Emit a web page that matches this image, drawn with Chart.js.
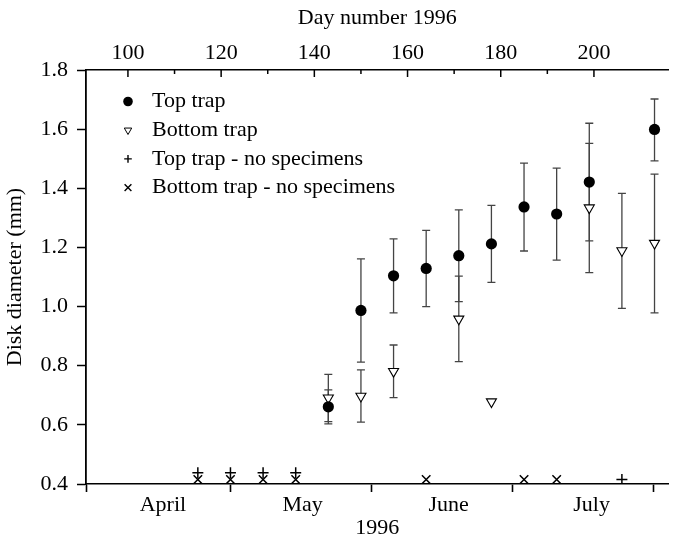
<!DOCTYPE html>
<html><head><meta charset="utf-8">
<script src="https://cdn.jsdelivr.net/npm/chart.js@4.4.1/dist/chart.umd.min.js"></script>
<style>html,body{margin:0;padding:0;background:#fff}canvas{display:block}</style>
</head><body>
<canvas id="c" width="676" height="541"></canvas>
<script>
// ---- data (day number 1996, disk diameter in mm) ----
const topTrapDays  = [143, 150, 157, 164, 171, 178, 185, 192, 199, 213];
const topTrapMean  = [0.661, 0.987, 1.104, 1.129, 1.172, 1.212, 1.337, 1.313, 1.421, 1.599];
const topTrapLow   = [0.603, 0.812, 0.979, 1.000, 1.017, 1.082, 1.188, 1.157, 1.222, 1.493];
const topTrapHigh  = [0.718, 1.161, 1.229, 1.258, 1.327, 1.342, 1.485, 1.468, 1.620, 1.702];

const bottomTrapDays = [143, 150, 157, 171, 178, 199, 206, 213];
const bottomTrapMean = [0.691, 0.697, 0.781, 0.958, 0.678, 1.334, 1.189, 1.214];
const bottomTrapLow  = [0.611, 0.609, 0.692, 0.814, null, 1.115, 0.994, 0.979];
const bottomTrapHigh = [0.771, 0.786, 0.870, 1.103, null, 1.552, 1.383, 1.448];

const topNoneDays = [115, 122, 129, 136, 206];
const topNoneY    = [0.438, 0.438, 0.438, 0.438, 0.415];
const bottomNoneDays = [115, 122, 129, 136, 164, 185, 192];
const bottomNoneY    = [0.415, 0.415, 0.415, 0.415, 0.415, 0.415, 0.415];

// bottom (month) axis: tick marks at month boundaries, labels mid-month (day numbers)
const monthTickDays  = [91, 122, 152.3, 182.5, 212.7];
const monthLabelDays = [107.5, 137.5, 168.8, 199.5];
const monthLabels    = ['April', 'May', 'June', 'July'];
const seriesLabels = ['Top trap', 'Bottom trap', 'Top trap - no specimens', 'Bottom trap - no specimens'];

const FONT = '"Liberation Serif", "Times New Roman", serif';
const pts = (xs, ys) => xs.map((x, i) => ({x: x, y: ys[i]}));

function drawMarker(ctx, style, x, y, r, lw) {
  ctx.save();
  ctx.lineWidth = lw;
  ctx.strokeStyle = '#000';
  ctx.beginPath();
  if (style === 'circle') {
    ctx.arc(x, y, r, 0, Math.PI * 2);
    ctx.fillStyle = '#000'; ctx.fill();
  } else if (style === 'triangleDown') {
    for (let k = 0; k < 3; k++) {
      const a = Math.PI + k * 2 * Math.PI / 3;
      const px = x + Math.sin(a) * r, py = y - Math.cos(a) * r;
      if (k === 0) ctx.moveTo(px, py); else ctx.lineTo(px, py);
    }
    ctx.closePath();
    ctx.fillStyle = '#fff'; ctx.fill(); ctx.stroke();
  } else if (style === 'cross') {
    ctx.moveTo(x - r, y); ctx.lineTo(x + r, y);
    ctx.moveTo(x, y - r); ctx.lineTo(x, y + r);
    ctx.stroke();
  } else if (style === 'crossRot') {
    const d = r * Math.SQRT1_2;
    ctx.moveTo(x - d, y - d); ctx.lineTo(x + d, y + d);
    ctx.moveTo(x + d, y - d); ctx.lineTo(x - d, y + d);
    ctx.stroke();
  }
  ctx.restore();
}

const errorBars = {
  id: 'errorBars',
  beforeDatasetsDraw(chart) {
    const ctx = chart.ctx, ys = chart.scales.y;
    chart.data.datasets.forEach((ds, i) => {
      if (!ds.lo) return;
      const meta = chart.getDatasetMeta(i);
      meta.data.forEach((el, j) => {
        const lo = ds.lo[j], hi = ds.hi[j];
        if (lo == null || hi == null) return;
        const x = el.x, y1 = ys.getPixelForValue(lo), y2 = ys.getPixelForValue(hi);
        ctx.save();
        ctx.strokeStyle = '#444';
        ctx.lineWidth = 1.3;
        ctx.beginPath();
        ctx.moveTo(x, y1); ctx.lineTo(x, y2);
        ctx.moveTo(x - 4, y1); ctx.lineTo(x + 4, y1);
        ctx.moveTo(x - 4, y2); ctx.lineTo(x + 4, y2);
        ctx.stroke();
        ctx.restore();
      });
    });
  }
};

const topTicks = {
  id: 'topTicks',
  afterDraw(chart) {
    const s = chart.scales.x, ctx = chart.ctx, top = chart.chartArea.top;
    ctx.save();
    ctx.strokeStyle = '#000';
    ctx.lineWidth = 1.5;
    s.ticks.forEach(t => {
      const px = s.getPixelForValue(t.value);
      const len = (t.value % 20 === 0) ? 7 : 4;
      ctx.beginPath(); ctx.moveTo(px, top); ctx.lineTo(px, top + len); ctx.stroke();
    });
    ctx.restore();
  }
};

const legendStyles = [
  {style: 'circle', r: 4.8, lw: 1},
  {style: 'triangleDown', r: 4.3, lw: 1},
  {style: 'cross', r: 3.8, lw: 1.4},
  {style: 'crossRot', r: 4.8, lw: 1.4}
];
const insideLegend = {
  id: 'insideLegend',
  afterDraw(chart) {
    const ctx = chart.ctx, a = chart.chartArea;
    ctx.save();
    ctx.font = '22px ' + FONT;
    ctx.fillStyle = '#000';
    ctx.textBaseline = 'middle';
    chart.data.datasets.forEach((ds, i) => {
      const y = a.top + 31.5 + i * 28.7;
      const ls = legendStyles[i];
      drawMarker(ctx, ls.style, a.left + 42, y, ls.r, ls.lw);
      ctx.fillText(ds.label, a.left + 66, y);
    });
    ctx.restore();
  }
};

new Chart(document.getElementById('c'), {
  type: 'scatter',
  data: {
    datasets: [
      {label: seriesLabels[0], data: pts(topTrapDays, topTrapMean), lo: topTrapLow, hi: topTrapHigh,
       pointStyle: 'circle', pointRadius: 5.6, backgroundColor: '#000', borderColor: '#000', borderWidth: 0},
      {label: seriesLabels[1], data: pts(bottomTrapDays, bottomTrapMean), lo: bottomTrapLow, hi: bottomTrapHigh,
       pointStyle: 'triangle', pointRotation: 180, pointRadius: 5.8, backgroundColor: '#fff', borderColor: '#000', borderWidth: 1.1},
      {label: seriesLabels[2], data: pts(topNoneDays, topNoneY),
       pointStyle: 'cross', pointRadius: 5.5, borderColor: '#000', borderWidth: 1.5},
      {label: seriesLabels[3], data: pts(bottomNoneDays, bottomNoneY),
       pointStyle: 'crossRot', pointRadius: 6, borderColor: '#000', borderWidth: 1.5}
    ]
  },
  options: {
    responsive: false,
    animation: false,
    devicePixelRatio: 1,
    layout: {padding: {left: 0, right: 2, top: 0, bottom: 0}},
    plugins: {legend: {display: false}, tooltip: {enabled: false}},
    scales: {
      x: {
        type: 'linear', position: 'top', min: 91, max: 216,
        afterFit(s) { s.height = 70; },
        afterBuildTicks(s) { s.ticks = s.ticks.filter(t => Math.abs(t.value % 10) < 1e-6); },
        ticks: {stepSize: 10, autoSkip: false, maxRotation: 0, padding: 4, color: '#000',
                font: {family: FONT, size: 22},
                callback: v => (v % 20 === 0 && v <= 200) ? String(v) : ''},
        grid: {drawOnChartArea: false, drawTicks: false},
        border: {display: true, color: '#000', width: 1.6},
        title: {display: true, text: 'Day number 1996', color: '#000',
                font: {family: FONT, size: 22}, padding: {top: 5, bottom: 0}}
      },
      months: {
        type: 'linear', position: 'bottom', min: 91, max: 216,
        afterFit(s) { s.height = 57; },
        afterBuildTicks(s) {
          s.ticks = monthTickDays.concat(monthLabelDays).sort((a, b) => a - b).map(v => ({value: v}));
        },
        ticks: {autoSkip: false, maxRotation: 0, padding: 0, color: '#000',
                font: {family: FONT, size: 22},
                callback: v => { const k = monthLabelDays.indexOf(v); return k >= 0 ? monthLabels[k] : ''; }},
        grid: {drawOnChartArea: false, drawTicks: true, tickLength: 8, tickWidth: 1.6,
               tickColor: c => (c.tick && monthTickDays.indexOf(c.tick.value) >= 0) ? '#000' : 'rgba(0,0,0,0)'},
        border: {display: true, color: '#000', width: 1.6},
        title: {display: true, text: '1996', color: '#000',
                font: {family: FONT, size: 22}, padding: {top: 0, bottom: 0}}
      },
      y: {
        type: 'linear', position: 'left', min: 0.4, max: 1.8,
        afterFit(s) { s.width = 86; },
        ticks: {stepSize: 0.2, padding: 9, color: '#000', font: {family: FONT, size: 22},
                callback: v => v.toFixed(1)},
        grid: {drawOnChartArea: false, drawTicks: true, tickLength: 9, tickWidth: 1.5, tickColor: '#000'},
        border: {display: true, color: '#000', width: 1.8},
        title: {display: true, text: 'Disk diameter (mm)', color: '#000',
                font: {family: FONT, size: 22}, padding: {top: 2, bottom: 0}}
      }
    }
  },
  plugins: [errorBars, topTicks, insideLegend]
});
</script>
</body></html>
